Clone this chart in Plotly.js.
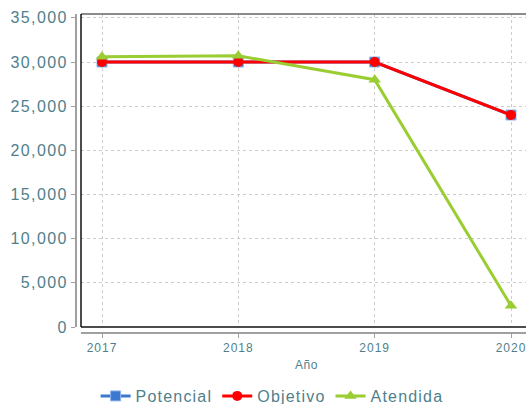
<!DOCTYPE html>
<html>
<head>
<meta charset="utf-8">
<script src="https://cdn.plot.ly/plotly-3.0.1.min.js"></script>
<style>
html, body { margin: 0; padding: 0; overflow: hidden; background: #fff; }
#chart { width: 531px; height: 404px; }
.ytick text { letter-spacing: 1.4px; }
.xtick text { letter-spacing: 1px; }
.legendtext { letter-spacing: 1.2px; }
.annotation-text { letter-spacing: 0.5px; }
</style>
</head>
<body>
<div id="chart"></div>
<script>
const years = [2017, 2018, 2019, 2020];
const potencial = [30000, 30000, 30000, 24000];
const objetivo = [30000, 30000, 30000, 24000];
const atendida = [30600, 30700, 28000, 2400];
const yTicks = [0, 5000, 10000, 15000, 20000, 25000, 30000, 35000];
const yTickText = ['0', '5,000', '10,000', '15,000', '20,000', '25,000', '30,000', '35,000'];

const txtColor = '#4f7f8b';
const font = 'Liberation Sans, Arial, sans-serif';

const traces = [
  { x: years, y: potencial, name: 'Potencial', type: 'scatter', mode: 'lines+markers',
    line: { color: '#3d78d0', width: 3 },
    marker: { symbol: 'square', size: 10, color: '#3d78d0', line: { color: '#8fb4e8', width: 1 } } },
  { x: years, y: objetivo, name: 'Objetivo', type: 'scatter', mode: 'lines+markers',
    line: { color: '#ff0000', width: 3 },
    marker: { symbol: 'circle', size: 10, color: '#ff0000' } },
  { x: years, y: atendida, name: 'Atendida', type: 'scatter', mode: 'lines+markers',
    line: { color: '#9acd32', width: 3 },
    marker: { symbol: 'triangle-up', size: 11, color: '#9acd32' } }
];

const layout = {
  width: 531, height: 404,
  margin: { l: 76, r: 0, t: 14, b: 71, autoexpand: false },
  paper_bgcolor: '#fff', plot_bgcolor: '#fff',
  showlegend: true,
  legend: { orientation: 'h', x: 0.431, xanchor: 'center', y: (333 - 396) / 319, yanchor: 'middle',
    font: { family: font, size: 16, color: txtColor }, bgcolor: 'rgba(0,0,0,0)' },
  xaxis: {
    domain: [5 / 455, 1], range: [2016.846, 2020.1467],
    anchor: 'free', position: 0,
    tickvals: years, ticktext: years.map(String),
    showgrid: true, gridcolor: '#cccccc', griddash: '3px,3px', gridwidth: 1,
    zeroline: false, showline: true, linecolor: '#a0a0a0', linewidth: 2,
    ticks: 'outside', ticklen: 4, tickcolor: '#a0a0a0', tickwidth: 1,
    tickfont: { family: font, size: 12, color: txtColor }
  },
  yaxis: {
    domain: [6 / 319, 1], range: [0, 35434],
    anchor: 'free', position: 0,
    tickvals: yTicks, ticktext: yTickText,
    showgrid: true, gridcolor: '#cccccc', griddash: '3px,3px', gridwidth: 1,
    zeroline: false, showline: true, linecolor: '#a0a0a0', linewidth: 2,
    ticks: 'outside', ticklen: 4, tickcolor: '#a0a0a0', tickwidth: 1,
    tickfont: { family: font, size: 16, color: txtColor }
  },
  annotations: [
    { text: 'Año', xref: 'paper', yref: 'paper', x: (306 - 76) / 455, y: (333 - 365) / 319,
      xanchor: 'center', yanchor: 'middle', showarrow: false,
      font: { family: font, size: 12, color: txtColor } }
  ],
  shapes: [
    { type: 'line', xref: 'x domain', yref: 'y domain', x0: 0, x1: 1, y0: 1, y1: 1,
      line: { color: '#666666', width: 1.5 } },
    { type: 'line', xref: 'x domain', yref: 'y domain', x0: 0, x1: 0, y0: 0, y1: 1,
      line: { color: '#111111', width: 1.5 } },
    { type: 'line', xref: 'x domain', yref: 'y domain', x0: 0, x1: 1, y0: 0, y1: 0,
      line: { color: '#111111', width: 1.5 } }
  ]
};

Plotly.newPlot('chart', traces, layout, { displayModeBar: false, staticPlot: true });
</script>
</body>
</html>
